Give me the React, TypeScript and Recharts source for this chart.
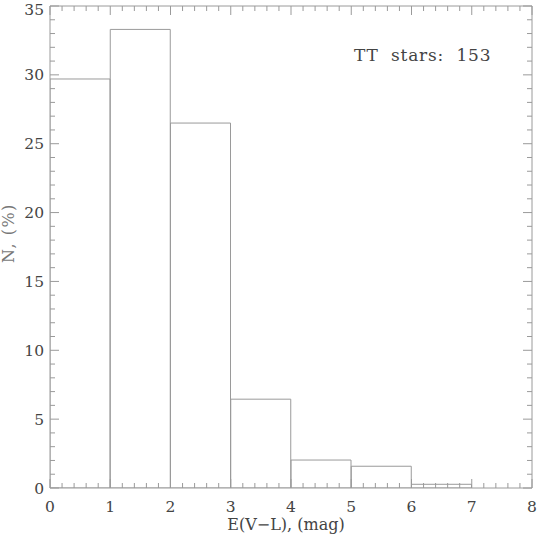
import React from 'react';
import { BarChart, Bar, XAxis, YAxis } from 'recharts';

// histogram of E(V-L) for TT stars, percent per 1-mag bin
const binCenters = [0.5, 1.5, 2.5, 3.5, 4.5, 5.5, 6.5, 7.5];
const percent = [29.7, 33.3, 26.5, 6.45, 2.03, 1.58, 0.27, 0];
const xTicks = Array.from({ length: 41 }, (_, i) => i / 5);
const yTicks = Array.from({ length: 36 }, (_, i) => i);

const data = binCenters.map((mid, i) => ({ mid, value: percent[i] }));

const LINE = '#9a9a9a';
const TEXT = '#444';
const FONT = '"DejaVu Serif", "Liberation Serif", serif';
const MARGIN = 10;

const isMajor = (v: number, step: number) => Math.abs(v / step - Math.round(v / step)) < 1e-6;

const BottomTick = ({ x, y, payload }: any) => {
  const v = payload.value;
  const major = isMajor(v, 1);
  const axisY = y - MARGIN;
  return (
    <g>
      <line x1={x} x2={x} y1={axisY} y2={axisY - (major ? 9 : 5)} stroke={LINE} />
      {major && (
        <text x={x} y={axisY + 24} textAnchor="middle" fill={TEXT} fontSize={15.5} fontFamily={FONT}>
          {Math.round(v)}
        </text>
      )}
    </g>
  );
};

const TopTick = ({ x, y, payload }: any) => {
  const major = isMajor(payload.value, 1);
  const axisY = y + MARGIN;
  return <line x1={x} x2={x} y1={axisY} y2={axisY + (major ? 9 : 5)} stroke={LINE} />;
};

const LeftTick = ({ x, y, payload }: any) => {
  const v = payload.value;
  const major = isMajor(v, 5);
  const axisX = x + MARGIN;
  // keep the top label inside the page
  const baseline = Math.max(y + 5.5, 15);
  return (
    <g>
      <line x1={axisX} x2={axisX + (major ? 9 : 5)} y1={y} y2={y} stroke={LINE} />
      {major && (
        <text x={axisX - 6} y={baseline} textAnchor="end" fill={TEXT} fontSize={15.5} fontFamily={FONT}>
          {v}
        </text>
      )}
    </g>
  );
};

const RightTick = ({ x, y, payload }: any) => {
  const major = isMajor(payload.value, 5);
  const axisX = x - MARGIN;
  return <line x1={axisX} x2={axisX - (major ? 9 : 5)} y1={y} y2={y} stroke={LINE} />;
};

export default function App() {
  return (
    <div style={{ position: 'absolute', left: 0, top: 0, width: 538, height: 537, background: '#fff' }}>
      <BarChart
        width={538}
        height={537}
        data={data}
        barCategoryGap={0}
        margin={{ top: 0, right: 0, bottom: 0, left: 0 }}
      >
        <XAxis
          xAxisId="num"
          dataKey="mid"
          type="number"
          domain={[0, 8]}
          ticks={xTicks}
          interval={0}
          height={49}
          tickLine={false}
          tickSize={0}
          tickMargin={MARGIN}
          axisLine={{ stroke: LINE }}
          tick={<BottomTick />}
          allowDataOverflow
          label={{ value: 'E(V\u2212L),  (mag)', position: 'insideBottom', offset: 7, dx: -5, fill: TEXT, fontSize: 16, fontFamily: FONT }}
        />
        <XAxis
          xAxisId="top"
          dataKey="mid"
          orientation="top"
          type="number"
          domain={[0, 8]}
          ticks={xTicks}
          interval={0}
          height={6}
          tickLine={false}
          tickSize={0}
          tickMargin={MARGIN}
          axisLine={{ stroke: LINE }}
          tick={<TopTick />}
          allowDataOverflow
        />
        <YAxis
          yAxisId="left"
          type="number"
          domain={[0, 35]}
          ticks={yTicks}
          interval={0}
          width={50}
          tickLine={false}
          tickSize={0}
          tickMargin={MARGIN}
          axisLine={{ stroke: LINE }}
          tick={<LeftTick />}
          allowDataOverflow
          label={{ value: 'N,  (%)', angle: -90, position: 'insideLeft', offset: 8, dy: 16, fill: '#777', fontSize: 16, letterSpacing: 1.5, fontFamily: FONT }}
        />
        <YAxis
          yAxisId="right"
          orientation="right"
          type="number"
          domain={[0, 35]}
          ticks={yTicks}
          interval={0}
          width={6}
          tickLine={false}
          tickSize={0}
          tickMargin={MARGIN}
          axisLine={{ stroke: LINE }}
          tick={<RightTick />}
          allowDataOverflow
        />
        <Bar
          xAxisId="num"
          yAxisId="left"
          dataKey="value"
          fill="none"
          stroke={LINE}
          strokeWidth={1}
          isAnimationActive={false}
        />
      </BarChart>
      <div
        style={{
          position: 'absolute',
          left: 354,
          top: 45,
          fontFamily: FONT,
          fontSize: 17,
          letterSpacing: 0.8,
          color: TEXT,
          whiteSpace: 'pre',
        }}
      >
        {'TT  stars:  153'}
      </div>
    </div>
  );
}
